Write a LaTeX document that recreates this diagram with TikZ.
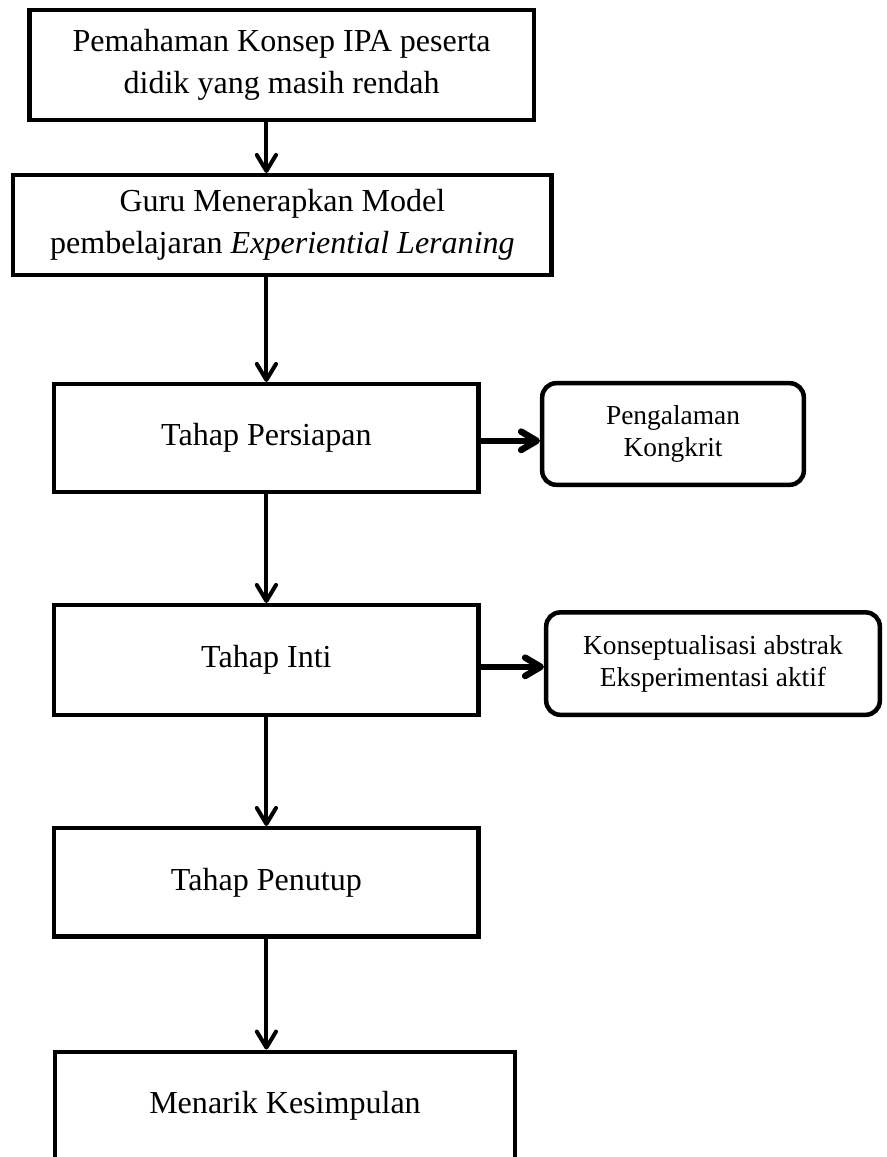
\documentclass[tikz,border=0pt]{standalone}
\usepackage{fontspec}
\setmainfont{Liberation Serif}
\usetikzlibrary{arrows.meta}

\begin{document}
\begin{tikzpicture}[
        box/.style={draw, line width=3.2pt, align=center, inner sep=0pt, font=\fontsize{22.8}{30}\selectfont},
        side/.style={box, rounded corners=0.35cm, font=\fontsize{19.5}{22.8}\selectfont},
        arrow/.style={-{Straight Barb[length=4mm, width=4.8mm, round]}, line width=2.85pt},
        sidearrow/.style={-{Straight Barb[length=3.9mm, width=4.6mm, round]}, line width=4.6pt}
    ]
        \useasboundingbox (0,0) rectangle (22.175,-28.925);

        % Main steps
        \node[box, minimum width=12.61cm, minimum height=2.74cm] (B1) at (7.04,-1.625) {Pemahaman Konsep IPA peserta\\didik yang masih rendah};
        \node[box, minimum width=13.46cm, minimum height=2.49cm] (B2) at (7.06,-5.625) {Guru Menerapkan Model\\pembelajaran \textit{Experiential Leraning}};
        \node[box, minimum width=10.61cm, minimum height=2.69cm] (B3) at (6.66,-10.95) {Tahap Persiapan};
        \node[box, minimum width=10.61cm, minimum height=2.74cm] (B4) at (6.66,-16.5) {Tahap Inti};
        \node[box, minimum width=10.61cm, minimum height=2.71cm] (B5) at (6.66,-22.06) {Tahap Penutup};
        \node[box, minimum width=11.49cm, minimum height=2.71cm] (B6) at (7.125,-27.65) {Menarik Kesimpulan};

        % Side boxes
        \node[side, minimum width=6.54cm, minimum height=2.54cm] (S1) at (16.825,-10.85) {Pengalaman\\Kongkrit};
        \node[side, minimum width=8.34cm, minimum height=2.56cm] (S2) at (17.825,-16.59) {Konseptualisasi abstrak\\Eksperimentasi aktif};

        % Arrows
        \draw[arrow] (B1.south -| B3) -- (B2.north -| B3);
        \draw[arrow] (B2.south -| B3) -- (B3.north);
        \draw[arrow] (B3.south) -- (B4.north);
        \draw[arrow] (B4.south) -- (B5.north);
        \draw[arrow] (B5.south) -- (B6.north -| B5);
        \draw[sidearrow] ([yshift=-0.07cm]B3.east) -- ([yshift=-0.07cm]S1.west |- B3.east);
        \draw[sidearrow] ([yshift=-0.17cm]B4.east) -- ([yshift=-0.17cm]S2.west |- B4.east);

    \end{tikzpicture}
\end{document}
